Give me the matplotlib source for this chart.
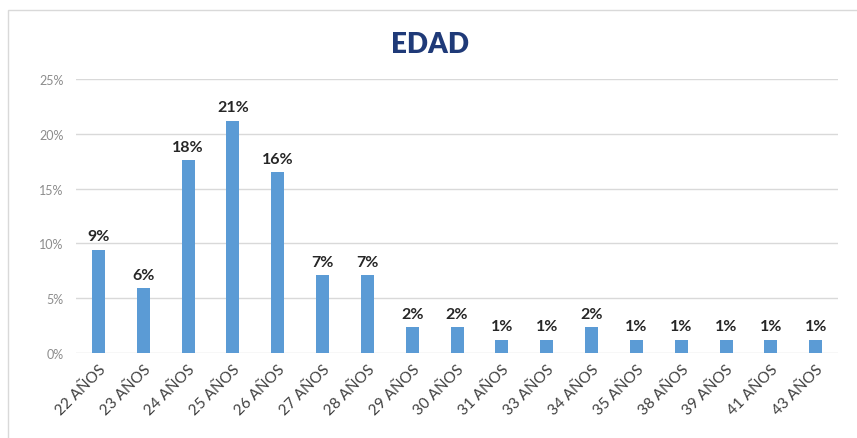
import matplotlib.pyplot as plt
import matplotlib.patches as mpatches
from matplotlib.ticker import PercentFormatter

plt.rcParams['font.family'] = ['Lato', 'DejaVu Sans']

edades = ["22 AÑOS", "23 AÑOS", "24 AÑOS", "25 AÑOS", "26 AÑOS", "27 AÑOS",
          "28 AÑOS", "29 AÑOS", "30 AÑOS", "31 AÑOS", "33 AÑOS", "34 AÑOS",
          "35 AÑOS", "38 AÑOS", "39 AÑOS", "41 AÑOS", "43 AÑOS"]
porcentajes = [9.4, 5.9, 17.6, 21.2, 16.5, 7.1, 7.1, 2.35, 2.35, 1.18, 1.18,
               2.35, 1.18, 1.18, 1.18, 1.18, 1.18]

AZUL = "#5B9BD5"

fig = plt.figure(figsize=(8.57, 4.39), dpi=100)
ax = fig.add_axes([0.0887, 0.1936, 0.8893, 0.6242])

# marco del gráfico
fig.patches.append(mpatches.Rectangle((8 / 857, -0.01), 1.0, 1 - 11 / 439 + 0.01,
                                      transform=fig.transFigure, fill=False,
                                      edgecolor="#d9d9d9", linewidth=1))

x = range(len(edades))
bars = ax.bar(x, porcentajes, width=0.29, color=AZUL, zorder=3)
for b, v in zip(bars, porcentajes):
    ax.text(b.get_x() + b.get_width() / 2, v + 0.6, f"{v:.0f}%",
            ha="center", va="bottom", fontsize=11.5, fontweight="bold",
            color="#262626")

ax.set_xlim(-0.5, len(edades) - 0.5)
ax.set_ylim(0, 25)
ax.set_yticks([0, 5, 10, 15, 20, 25])
ax.yaxis.set_major_formatter(PercentFormatter(decimals=0))
ax.grid(axis="y", color="#d9d9d9", linewidth=1, zorder=0)
for s in ax.spines.values():
    s.set_visible(False)
ax.tick_params(axis="both", length=0)
ax.tick_params(axis="y", labelsize=9, labelcolor="#8c8c8c", pad=9)
ax.set_xticks(list(x))
ax.set_xticklabels(edades, rotation=45, ha="right", rotation_mode="anchor",
                   fontsize=11, color="#404040")
ax.tick_params(axis="x", pad=6)

fig.text(0.502, 0.897, "EDAD", ha="center", va="center", fontsize=20,
         fontweight="heavy", color="#1F3A78")

fig.savefig("out.png", dpi=100)
